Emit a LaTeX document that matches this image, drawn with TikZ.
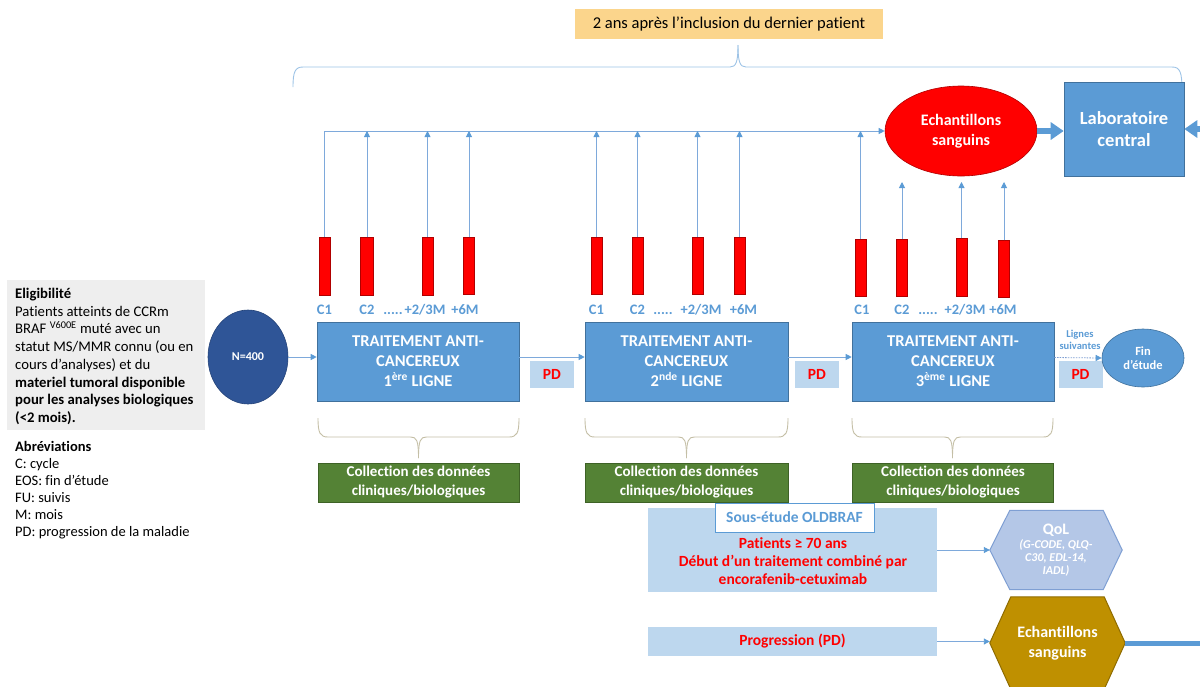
\documentclass[tikz,border=0pt]{standalone}
\usepackage{fontspec}
\setmainfont{Carlito}[Ligatures=NoCommon]
\usetikzlibrary{arrows.meta,shapes.geometric,backgrounds,calc}
\definecolor{mblue}{HTML}{5B9BD5}
\definecolor{mbluedk}{HTML}{41719C}
\definecolor{lblue}{HTML}{BDD7EE}
\definecolor{cline}{HTML}{7EA9DB}
\definecolor{brc}{HTML}{9DC3E6}
\definecolor{olbr}{HTML}{C4BFA6}
\definecolor{dkblue}{HTML}{2F5597}
\definecolor{grn}{HTML}{548235}
\definecolor{grndk}{HTML}{3E6226}
\definecolor{qolf}{HTML}{B4C7E7}
\definecolor{qold}{HTML}{7F9FD3}
\definecolor{goldf}{HTML}{BF9000}
\definecolor{golddk}{HTML}{8F6C00}
\definecolor{ylw}{HTML}{FBD58C}
\definecolor{grayb}{HTML}{EEEEEE}
\definecolor{pdred}{HTML}{FF0000}
\definecolor{barred}{HTML}{FF0000}
\definecolor{bardk}{HTML}{B00000}
\newcommand{\fTreat}{\fontsize{16.5}{20}\selectfont\bfseries}
\newcommand{\fLbl}{\fontsize{14.5}{16}\selectfont\bfseries}
\newcommand{\fColl}{\fontsize{15}{19}\selectfont\bfseries}
\newcommand{\fLeft}{\fontsize{14.7}{17.7}\selectfont}
\newcommand{\fAbr}{\fontsize{14.5}{17}\selectfont}
\newcommand{\fPDx}{\fontsize{15.5}{17}\selectfont\bfseries}
\newcommand{\fLabo}{\fontsize{18.5}{22}\selectfont\bfseries}
\newcommand{\fEch}{\fontsize{16}{20}\selectfont\bfseries}
\newcommand{\fTop}{\fontsize{16.5}{19}\selectfont}
\newcommand{\fNn}{\fontsize{12}{14}\selectfont\bfseries}
\newcommand{\fSmall}{\fontsize{10.5}{12}\selectfont\bfseries}
\newcommand{\fFin}{\fontsize{12.5}{14}\selectfont\bfseries}
\newcommand{\fSous}{\fontsize{15.5}{18}\selectfont\bfseries}
\newcommand{\fRed}{\fontsize{15.5}{18}\selectfont\bfseries}
\newcommand{\fQol}{\fontsize{16}{17}\selectfont\bfseries\upshape}
\newcommand{\fQd}{\fontsize{12}{13}\selectfont\bfseries\itshape}
\begin{document}
\begin{tikzpicture}[x=1pt,y=-1pt,
  arr/.style={draw=cline, line width=0.9pt, -{Triangle[length=6pt,width=6pt,color=mblue]}},
  dotarr/.style={draw=qold, line width=0.8pt, dash pattern=on 1.5pt off 1.2pt, -{Triangle[length=6pt,width=6pt,color=mblue]}},
  thk/.style={draw=mblue, line width=6pt, -{Triangle[length=13pt,width=17pt]}},
  redbar/.style={fill=barred, draw=bardk, line width=0.5pt, minimum width=11, inner sep=0},
  treat/.style={fill=mblue, draw=mbluedk, line width=0.6pt, minimum width=202, minimum height=79, text=white, font=\fTreat, align=center, inner sep=0},
  pdbox/.style={fill=lblue, minimum width=44, minimum height=27, text=pdred, font=\fPDx, inner sep=0},
  coll/.style={fill=grn, draw=grndk, line width=0.5pt, minimum width=201, minimum height=39, text=white, font=\fColl, align=center, inner sep=0},
  lbl/.style={text=mblue, font=\fLbl, inner sep=0, anchor=base},
  brace/.style={draw=olbr, line width=0.9pt},
  topbrace/.style={draw=brc, line width=0.9pt}]
\useasboundingbox (0,0) rectangle (1200,686);
\clip (0,0) rectangle (1200,686);

% coordinates
\coordinate (ltop) at (0,131);
\coordinate (etip) at (0,182);
\coordinate (lrow) at (0,314);
\coordinate (labin) at (1215,129);
\coordinate (goldend) at (1215,643);

% top brace
\draw[topbrace] (293,87) .. controls (293,72) and (295,67) .. (303,67) -- (730,67) .. controls (736,67) and (738,62) .. (738,45);
\draw[topbrace] (1182,90) .. controls (1182,72) and (1180,67) .. (1172,67) -- (746,67) .. controls (740,67) and (738,62) .. (738,45);

% under braces
\foreach \a/\b in {318/519,585/788,852/1053}{
  \pgfmathsetmacro{\m}{(\a+\b)/2}
  \draw[brace] (\a,418) .. controls (\a,433) and (\a+2,437) .. (\a+10,437) -- (\m-8,437) .. controls (\m-2,437) and (\m,440) .. (\m,458);
  \draw[brace] (\b,418) .. controls (\b,433) and (\b-2,437) .. (\b-10,437) -- (\m+8,437) .. controls (\m+2,437) and (\m,440) .. (\m,458);
}

% top box
\node[fill=ylw, minimum width=308, minimum height=30, font=\fTop, inner sep=0] (yel) at (729,24) {2 ans après l’inclusion du dernier patient};

% left texts
\node[fill=grayb, minimum width=198, minimum height=150, anchor=north west, inner sep=0] (elig) at (7,280) {};
\node[anchor=north west, align=left, font=\fLeft, inner sep=0] (eligt) at (15,288) {\textbf{Eligibilité}\\
Patients atteints de CCRm\\
BRAF \textsuperscript{V600E} muté avec un\\
statut MS/MMR connu (ou en\\
cours d’analyses) et du\\
\textbf{materiel tumoral disponible}\\
\textbf{pour les analyses biologiques}\\
\textbf{(<2 mois).}};
\node[anchor=north west, align=left, font=\fAbr, inner sep=0] (abr) at (15,441) {\textbf{Abréviations}\\
C: cycle\\
EOS: fin d’étude\\
FU: suivis\\
M: mois\\
PD: progression de la maladie};

% N=400
\node[ellipse, fill=dkblue, draw=dkblue!80!black, line width=0.6pt, minimum width=80, minimum height=94, inner sep=0, text=white, font=\fNn] (n400) at (248,357) {N=400};

% treatment boxes
\node[treat] (box1) at (418,361.5) {TRAITEMENT ANTI-\\CANCEREUX\\1\textsuperscript{ère} LIGNE};
\node[treat, minimum width=203] (box2) at (686.5,361.5) {TRAITEMENT ANTI-\\CANCEREUX\\2\textsuperscript{nde} LIGNE};
\node[treat] (box3) at (953,361.5) {TRAITEMENT ANTI-\\CANCEREUX\\3\textsuperscript{ème} LIGNE};

% PD boxes
\node[pdbox] (pd1) at (552,374) {PD};
\node[pdbox] (pd2) at (817,374.5) {PD};
\node[pdbox] (pd3) at (1080.5,374.5) {PD};

% collection boxes
\node[coll] (col1) at (418.5,482.5) {Collection des données\\cliniques/biologiques};
\node[coll, minimum width=203] (col2) at (686.5,482.5) {Collection des données\\cliniques/biologiques};
\node[coll] (col3) at (953,482.5) {Collection des données\\cliniques/biologiques};

% red bars
\node[redbar, minimum height=58] (b11) at (324.5,266) {};
\node[redbar, minimum height=58, minimum width=13] (b12) at (367,266.5) {};
\node[redbar, minimum height=58] (b13) at (427.5,266) {};
\node[redbar, minimum height=57] (b14) at (469,266) {};
\node[redbar, minimum height=57] (b21) at (596.5,265.5) {};
\node[redbar, minimum height=57] (b22) at (637.5,265.5) {};
\node[redbar, minimum height=57] (b23) at (697.5,265.5) {};
\node[redbar, minimum height=57] (b24) at (739.5,265.5) {};
\node[redbar, minimum height=57] (b31) at (860.5,268) {};
\node[redbar, minimum height=57] (b32) at (902,268) {};
\node[redbar, minimum height=58] (b33) at (961.5,267.5) {};
\node[redbar, minimum height=57] (b34) at (1004,269) {};

% labels
\node[lbl] (l11) at (b11.south |- lrow) {C1};
\node[lbl] (l12) at (b12.south |- lrow) {C2};
\node[lbl] (l1d) at (393,314) {.....};
\node[lbl] (l13) at (425,314) {+2/3M};
\node[lbl] (l14) at (465,314) {+6M};
\node[lbl] (l21) at (b21.south |- lrow) {C1};
\node[lbl] (l22) at (b22.south |- lrow) {C2};
\node[lbl] (l2d) at (663,314) {.....};
\node[lbl] (l23) at (701,314) {+2/3M};
\node[lbl] (l24) at (743.5,314) {+6M};
\node[lbl] (l31) at (862,314) {C1};
\node[lbl] (l32) at (b32.south |- lrow) {C2};
\node[lbl] (l3d) at (928,314) {.....};
\node[lbl] (l33) at (965,314) {+2/3M};
\node[lbl] (l34) at (1003,314) {+6M};

% blood samples and lab
\node[ellipse, fill=red, draw=bardk, line width=0.6pt, minimum width=152, minimum height=90, inner sep=0, text=white, font=\fEch, align=center] (ell) at (961,131) {Echantillons\\sanguins};
\node[fill=mblue, draw=mbluedk, line width=0.6pt, minimum width=120, minimum height=94, inner sep=0, text=white, font=\fLabo, align=center] (lab) at (1124,129) {Laboratoire\\central};

% fin d'etude
\node[ellipse, fill=mblue, draw=mbluedk, line width=0.6pt, minimum width=82, minimum height=58, inner sep=0, text=white, font=\fFin, align=center] (fin) at (1143,358) {Fin\\d’étude};
\node[text=mblue, font=\fSmall, align=center, inner sep=0] (lsuiv) at (1080,340) {Lignes\\suivantes};

% sub-study
\node[fill=lblue, minimum width=289, minimum height=84, inner sep=0] (sous) at (792.5,550) {};
\node[fill=white, draw=mblue, line width=1pt, minimum width=159, minimum height=29, font=\fSous, text=mblue, inner sep=0] (soustit) at (794.5,517.5) {Sous-étude OLDBRAF};
\node[font=\fRed, text=pdred, align=center, inner sep=0] (soustxt) at (793,561) {Patients ≥ 70 ans\\Début d’un traitement combiné par\\encorafenib-cetuximab};
\node[fill=lblue, minimum width=289, minimum height=29, font=\fRed, text=pdred, inner sep=0] (prog) at (792.5,641.5) {Progression (PD)};

% hexagons
\node[minimum width=132, minimum height=79, inner sep=0, text=white, align=center, font=\fQd] (qol) at (1056,550) {{\fQol QoL}\\[1pt]{\fQd (G-CODE, QLQ-}\\{\fQd C30, EDL-14,}\\{\fQd IADL)}};
\node[minimum width=135, minimum height=92, inner sep=0, text=white, align=center, font=\fEch] (gold) at (1057.5,643) {Echantillons\\sanguins};
\begin{scope}[on background layer]
\filldraw[fill=qolf, draw=qold, line width=1pt] (qol.west) -- ([xshift=20]qol.north west) -- ([xshift=-19]qol.north east) -- (qol.east) -- ([xshift=-19]qol.south east) -- ([xshift=20]qol.south west) -- cycle;
\filldraw[fill=goldf, draw=golddk, line width=1pt] (gold.west) -- ([xshift=21]gold.north west) -- ([xshift=-21]gold.north east) -- (gold.east) -- ([xshift=-21]gold.south east) -- ([xshift=21]gold.south west) -- cycle;
\end{scope}

% connectors
\draw[arr] (n400.east) -- (n400.east -| box1.west);
\draw[arr] ([yshift=4.5]box1.east) -- ([yshift=4.5]box2.west);
\draw[arr] ([yshift=4.5]box2.east) -- ([yshift=4.5]box3.west);
\draw[dotarr] ([yshift=4]box3.east) -- (fin.west);
\draw[arr] (b11.north) |- (ell.west);
\foreach \b in {b12,b13,b14,b21,b22,b23,b24,b31}{
  \draw[arr] (\b.north) -- (\b.north |- ltop);
}
\foreach \b in {b32,b33,b34}{
  \draw[arr] (\b.north) -- (\b.north |- etip);
}
\draw[thk] (ell.east) -- (ell.east -| lab.west);
\draw[thk] (labin) -- (labin -| lab.east);
\draw[arr] (sous.east) -- (sous.east -| qol.west);
\draw[arr] (prog.east) -- (prog.east -| gold.west);
\draw[draw=mblue, line width=5pt] (gold.east) -- (goldend);
\end{tikzpicture}
\end{document}
